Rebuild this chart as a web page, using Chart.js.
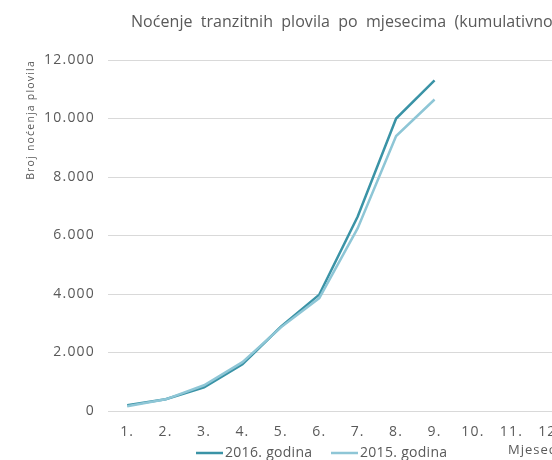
<!DOCTYPE html>
<html>
<head>
<meta charset="utf-8">
<script src="https://cdn.jsdelivr.net/npm/chart.js@4/dist/chart.umd.min.js"></script>
<style>
    html, body { margin: 0; padding: 0; background: #fff; overflow: hidden; }
    #wrap { width: 552px; height: 460px; overflow: hidden; }
</style>
</head>
<body>
<div id="wrap">
    <canvas id="myChart" width="600" height="460"></canvas>
</div>
<script>
const months = ['1.', '2.', '3.', '4.', '5.', '6.', '7.', '8.', '9.', '10.', '11.', '12.'];
const nights2016 = [200, 400, 810, 1600, 2880, 3980, 6650, 10000, 11300, null, null, null];
const nights2015 = [160, 400, 880, 1670, 2860, 3860, 6250, 9400, 10650, null, null, null];
const yTicks = [0, 2000, 4000, 6000, 8000, 10000, 12000];

const titleText = 'Noćenje tranzitnih plovila po mjesecima (kumulativno)';
const fontName = '"Open Sans", sans-serif';
const grey = '#595959';
const color2016 = '#3a93a6';
const color2015 = '#8ec6d6';

// the reference text is spaced wider than Open Sans
const spacing = {
    id: 'spacing',
    beforeDraw(chart) {
        chart.ctx.letterSpacing = '1.2px';
    }
};

// title, legend and x axis label drawn at their places in the picture
const extras = {
    id: 'extras',
    afterDraw(chart) {
        const ctx = chart.ctx;
        ctx.save();
        ctx.fillStyle = grey;
        ctx.textBaseline = 'middle';
        ctx.textAlign = 'left';

        ctx.font = '16px ' + fontName;
        ctx.letterSpacing = '0.05px';
        ctx.wordSpacing = '4px';
        ctx.fillText(titleText, 131, 22);
        ctx.wordSpacing = '0px';

        ctx.font = '13px ' + fontName;
        ctx.letterSpacing = '1px';
        ctx.fillText('Mjesec', 508, 450);

        ctx.font = '14px ' + fontName;
        ctx.letterSpacing = '0.3px';
        const items = [
            { x: 196, text: '2016. godina', color: color2016 },
            { x: 331, text: '2015. godina', color: color2015 }
        ];
        items.forEach(item => {
            ctx.strokeStyle = item.color;
            ctx.lineWidth = 2.5;
            ctx.beginPath();
            ctx.moveTo(item.x, 453);
            ctx.lineTo(item.x + 27, 453);
            ctx.stroke();
            ctx.fillStyle = grey;
            ctx.fillText(item.text, item.x + 29, 453);
        });
        ctx.restore();
    }
};

const ctx = document.getElementById('myChart').getContext('2d');

new Chart(ctx, {
    type: 'line',
    data: {
        labels: months,
        datasets: [{
            label: '2015. godina',
            data: nights2015,
            borderColor: color2015,
            backgroundColor: color2015,
            borderWidth: 2.5,
            pointRadius: 0,
            tension: 0,
            order: 0
        }, {
            label: '2016. godina',
            data: nights2016,
            borderColor: color2016,
            backgroundColor: color2016,
            borderWidth: 2.5,
            pointRadius: 0,
            tension: 0,
            order: 1
        }]
    },
    options: {
        responsive: false,
        animation: false,
        layout: {
            padding: { top: 60, right: 31, left: 0, bottom: 0 }
        },
        scales: {
            x: {
                offset: true,
                grid: { display: false, offset: true },
                border: { display: false },
                ticks: {
                    color: grey,
                    font: { family: fontName, size: 14 },
                    padding: 5,
                    autoSkip: false,
                    maxRotation: 0
                },
                afterFit: (scale) => { scale.height = 49; }
            },
            y: {
                min: 0,
                max: 12000,
                afterBuildTicks: (scale) => {
                    scale.ticks = yTicks.map(v => ({ value: v }));
                },
                grid: {
                    color: '#d9d9d9',
                    lineWidth: 1,
                    drawTicks: false
                },
                border: { display: false },
                ticks: {
                    color: grey,
                    font: { family: fontName, size: 14 },
                    padding: 13,
                    callback: (v) => v === 0 ? '0' : v.toLocaleString('de-DE')
                },
                title: {
                    display: true,
                    text: 'Broj noćenja plovila',
                    color: grey,
                    align: 'end',
                    font: { family: fontName, size: 10.5 },
                    padding: { top: 25, bottom: 0 }
                },
                afterFit: (scale) => { scale.width = 108; }
            }
        },
        plugins: {
            legend: { display: false },
            title: { display: false },
            tooltip: { enabled: false }
        }
    },
    plugins: [spacing, extras]
});
</script>
</body>
</html>
